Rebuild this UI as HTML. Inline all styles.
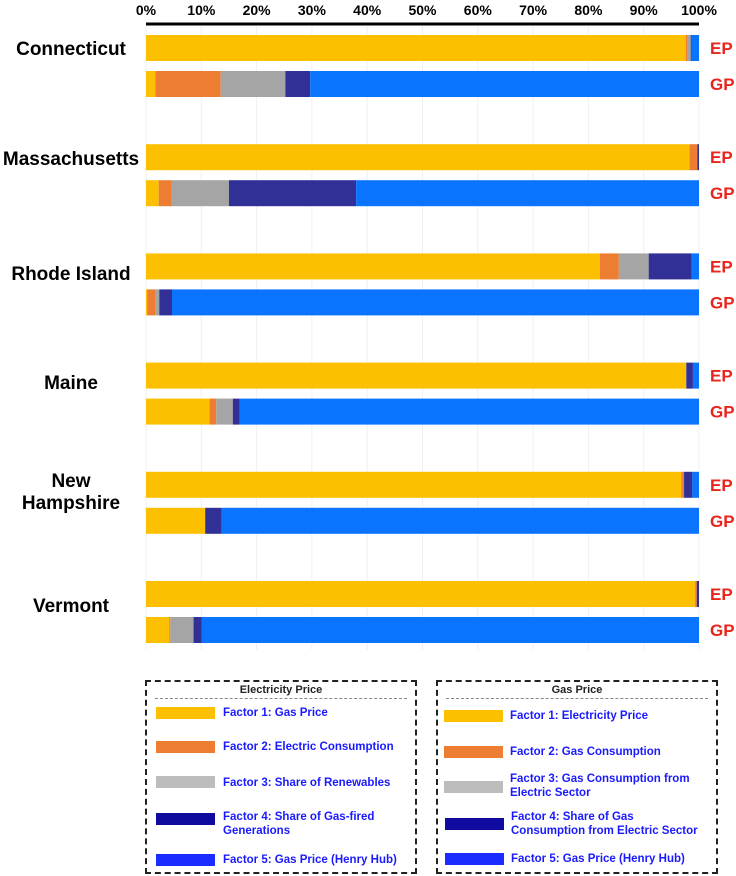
<!DOCTYPE html>
<html><head><meta charset="utf-8"><style>
body{margin:0;width:736px;height:876px;background:#fff;font-family:"Liberation Sans",sans-serif;position:relative;overflow:hidden}
.st{position:absolute;left:0;width:142px;text-align:center;font-weight:bold;font-size:19px;color:#000;line-height:22px}
.lg{position:absolute;border:2px dashed #222;box-sizing:border-box}
.lt{position:absolute;left:0;right:0;top:2px;text-align:center;font-size:11px;font-weight:bold;color:#222}
.ll{position:absolute;left:8px;right:8px;top:16px;border-top:1px dashed #888}
.it{position:absolute;font-size:11.5px;font-weight:bold;color:#1a1aff;line-height:14px}
.sw{position:absolute;width:59px;height:12px}
</style></head><body>
<svg id="chart" width="736" height="676" style="position:absolute;left:0;top:0"></svg>
<div class="st" style="top:39px">Connecticut</div>
<div class="st" style="top:149px">Massachusetts</div>
<div class="st" style="top:264px">Rhode Island</div>
<div class="st" style="top:373px">Maine</div>
<div class="st" style="top:471px">New<br>Hampshire</div>
<div class="st" style="top:596px">Vermont</div>

<div class="lg" style="left:145px;top:680px;width:272px;height:194px">
<div class="lt">Electricity Price</div><div class="ll"></div>
<div class="sw" style="left:9px;top:25px;background:#fdc000"></div><div class="it" style="left:76px;top:24px">Factor 1: Gas Price</div>
<div class="sw" style="left:9px;top:59px;background:#ed7d31"></div><div class="it" style="left:76px;top:58px">Factor 2: Electric Consumption</div>
<div class="sw" style="left:9px;top:94px;background:#bdbdbd"></div><div class="it" style="left:76px;top:94px">Factor 3: Share of Renewables</div>
<div class="sw" style="left:9px;top:131px;background:#0f0b9e"></div><div class="it" style="left:76px;top:128px">Factor 4: Share of Gas-fired<br>Generations</div>
<div class="sw" style="left:9px;top:172px;background:#1a2cff"></div><div class="it" style="left:76px;top:171px">Factor 5: Gas Price (Henry Hub)</div>
</div>
<div class="lg" style="left:436px;top:680px;width:282px;height:194px">
<div class="lt">Gas Price</div><div class="ll"></div>
<div class="sw" style="left:6px;top:28px;background:#fdc000"></div><div class="it" style="left:72px;top:27px">Factor 1: Electricity Price</div>
<div class="sw" style="left:6px;top:64px;background:#ed7d31"></div><div class="it" style="left:72px;top:63px">Factor 2: Gas Consumption</div>
<div class="sw" style="left:6px;top:99px;background:#bdbdbd"></div><div class="it" style="left:72px;top:90px">Factor 3: Gas Consumption from<br>Electric Sector</div>
<div class="sw" style="left:7px;top:136px;background:#0f0b9e"></div><div class="it" style="left:73px;top:128px">Factor 4: Share of Gas<br>Consumption from Electric Sector</div>
<div class="sw" style="left:7px;top:171px;background:#1a2cff"></div><div class="it" style="left:73px;top:170px">Factor 5: Gas Price (Henry Hub)</div>
</div>
<script>
const states=["Connecticut","Massachusetts","Rhode Island","Maine","New Hampshire","Vermont"];
const epValues=[[97.6,0.3,0.6,0.2,1.3],[98.3,1.4,0,0.3,0],[82.1,3.4,5.4,7.8,1.3],[97.7,0,0,1.2,1.1],[96.8,0.5,0,1.5,1.2],[99.3,0.3,0,0.4,0]];
const gpValues=[[1.7,11.8,11.7,4.5,70.3],[2.3,2.3,10.4,23,62],[0.2,1.5,0.7,2.3,95.3],[11.5,1.2,3,1.2,83.1],[10.7,0,0,3,86.3],[4.2,0.2,4.2,1.5,89.9]];
const ticks=[0,10,20,30,40,50,60,70,80,90,100];
const colors=["#fdc000","#ed7d31","#a5a5a5","#303097","#0a74ff"];
const svg=document.getElementById('chart');const NS="http://www.w3.org/2000/svg";
const x=v=>146+v*5.53;const y=i=>35+i*109.2;
function mk(t,a,p){const e=document.createElementNS(NS,t);for(const k in a)e.setAttribute(k,a[k]);(p||svg).appendChild(e);return e;}
ticks.forEach(t=>{const g=mk('line',{x1:x(t),x2:x(t),y1:26,y2:650,stroke:'#f0f0f0','stroke-width':1});


const tx=mk('text',{x:x(t),y:15,'text-anchor':'middle','font-size':14,'font-weight':'bold','font-family':'Liberation Sans, sans-serif'});tx.textContent=t+'%';

});
const ax=mk('line',{x1:146,x2:699,y1:24,y2:24,stroke:'#000','stroke-width':3});


states.forEach((s,i)=>{[[epValues[i],0,'EP'],[gpValues[i],36,'GP']].forEach(([vals,off,lab])=>{let c=0;vals.forEach((v,k)=>{if(v<=0)return;const r=mk('rect',{x:x(c),y:y(i)+off,width:v*5.53,height:26,fill:colors[k]});

c+=v;});
const t=mk('text',{x:710,y:y(i)+off+19,'font-size':17,'font-weight':'bold',fill:'#e8241c','font-family':'Liberation Sans, sans-serif'});t.textContent=lab;

});});
</script>
</body></html>
